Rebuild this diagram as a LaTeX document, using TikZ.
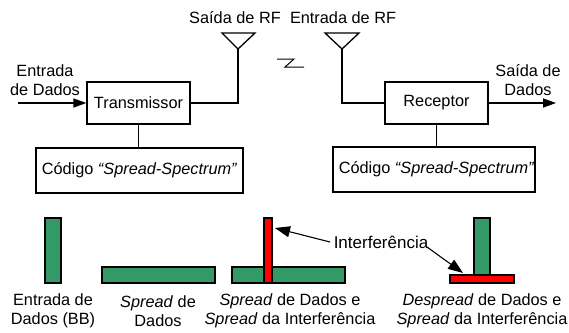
\documentclass[tikz,border=0pt]{standalone}
\usepackage{fontspec}
\setmainfont{Liberation Sans}
\usetikzlibrary{arrows.meta}
\definecolor{barGreen}{RGB}{51,153,102}
\tikzset{
  x=1pt,y=-1pt,
  block/.style={draw=black,line width=1.3pt,minimum height=0pt,minimum width=0pt,inner sep=0pt},
  wire/.style={draw=black,line width=1.3pt},
  arrowed/.style={wire,-{Triangle[length=13pt,width=9pt]},shorten >=0pt},
  callout/.style={draw=black,line width=1.1pt,-{Triangle[length=15pt,width=11pt]}},
  label/.style={font=\fontsize{16.3}{19.5}\selectfont,align=center,inner sep=0pt,text=black},
  greenbar/.style={draw=black,line width=1.2pt,fill=barGreen},
  redbar/.style={draw=black,line width=1.2pt,fill=red}
}
\begin{document}
\begin{tikzpicture}
\useasboundingbox (0,0) rectangle (569,332);
% boxes
\node[block,minimum width=103pt,minimum height=42pt,label] (tx) at (138.5,103) {Transmissor};
\node[block,minimum width=207pt,minimum height=45pt,label] (txc) at (139.5,170.5) {Código \textit{“Spread-Spectrum”}};
\node[block,minimum width=103pt,minimum height=42pt,label] (rx) at (436.5,103) {Receptor};
\node[block,minimum width=202pt,minimum height=45pt,label] (rxc) at (434,169.5) {\hspace*{5pt}Código \textit{“Spread-Spectrum”}};
\draw[wire] (tx.south) -- (tx.south |- txc.north);
\draw[wire] (rx.south) -- (rx.south |- rxc.north);
% antennas
\coordinate (ta) at (238,49);
\coordinate (ra) at (342,49);
\draw[wire] (222,33) -- (255,33) -- (ta) -- cycle;
\draw[wire] (325,33) -- (359,33) -- (ra) -- cycle;
\draw[wire] (ta) |- (tx.east);
\draw[wire] (ra) |- (rx.west);
% data arrows
\coordinate (din) at (18,103);
\coordinate (dout) at (556,103);
\draw[arrowed] (din) -- (din -| tx.west);
\draw[arrowed] (dout -| rx.east) -- (dout);
% link symbol
\draw[wire,line width=1pt] (277,59) -- (294,59) -- (285,67) -- (304,67);
% labels
\node[label] (l1) at (45,80) {Entrada\\de Dados};
\node[label] (l2) at (235,18) {Saída de RF};
\node[label] (l3) at (343,18) {Entrada de RF};
\node[label] (l4) at (528,80) {Saída de\\Dados};
\node[label] (l5) at (53,311) {Entrada de\\Dados (BB)};
\node[label] (l6) at (158,311) {\textit{Spread} de\\Dados};
\node[label] (l7) at (290,311) {\textit{Spread} de Dados e\\\textit{Spread} da Interferência};
\node[label] (l8) at (482,311) {\textit{Despread} de Dados e\\\textit{Spread} da Interferência};
% bars
\draw[greenbar] (45,218) rectangle (61,283);
\draw[greenbar] (102,267) rectangle (215,283);
\draw[greenbar] (232,267) rectangle (345,283);
\draw[redbar] (264,218) rectangle (272,283);
\draw[greenbar] (474,218) rectangle (490,275);
\draw[redbar] (450,275) rectangle (514,283);
% interference
\node[label,font=\fontsize{17}{19.5}\selectfont] (int) at (381,242) {Interferência};
\coordinate (i0) at (330,242);
\coordinate (i1) at (275,228);
\coordinate (i3) at (427,247);
\coordinate (i2) at (463,273);
\draw[callout] (i0) -- (i1);
\draw[callout] (i3) -- (i2);
\end{tikzpicture}
\end{document}
